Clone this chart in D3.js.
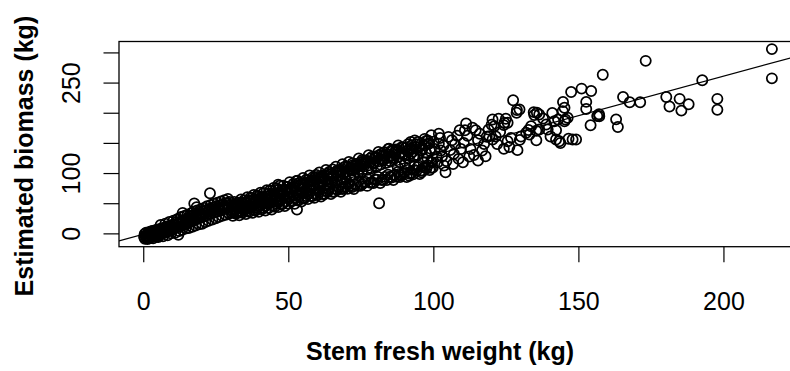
<!DOCTYPE html>
<html>
<head>
<meta charset="utf-8">
<script src="https://cdn.jsdelivr.net/npm/d3@7"></script>
<style>
  body { margin: 0; background: #fff; }
  svg { display: block; font-family: "Liberation Sans", Arial, Helvetica, sans-serif; }
</style>
</head>
<body>
<div id="chart"></div>
<script>
// stem fresh weight (kg) vs estimated biomass (kg)
const smallTrees = [
  [0.3,-6],[0.5,-1],[0.6,-9],[0.8,-4],[1.0,1],[1.1,-7],[1.3,-3],[1.5,-9.5],[1.7,0],[1.9,-5],
  [2.0,2],[2.2,-8],[2.4,-2],[2.6,3],[2.8,-6],[3.0,-1],[3.2,4],[3.4,-8],[3.5,1],[3.7,-4],
  [3.9,5],[4.1,-2],[4.3,2],[4.5,-6],[4.7,6],[4.9,0],[5.1,3],[5.3,-3],[5.5,7],[5.7,1],
  [5.9,4],[6.1,-1],[6.3,8],[6.5,3],[6.7,6],[6.9,0],[7.1,9],[7.3,4],[7.5,7],[7.7,2],
  [7.9,11],[8.1,5],[8.3,9],[8.5,3],[8.7,12],[8.9,7],[9.1,10],[9.3,5],[9.5,13],[9.7,8],
  [9.9,11],[10.2,6],[10.5,15],[10.8,9],[11.1,13],[11.4,18],[11.6,22.8],[11.8,10],[12.1,-2.3],[12.3,15],
  [12.6,19],[12.9,12],[13.2,17],[13.6,34],[13.8,21],[14.1,14],[14.4,19],[14.7,23],[15.0,16],[15.3,21],
  [15.6,26],[15.9,18],[16.2,23],[16.5,28],[16.8,20],[17.1,25],[17.6,49.7],[17.5,30],[17.8,22],[18.1,27],
  [18.4,43.5],[18.5,32],[18.8,24],[19.1,29],[19.5,34],[19.8,26],[20.1,31],[20.5,36],[20.8,28],[21.2,33],
  [21.6,38],[21.9,30],[22.3,35],[22.7,40],[23.0,66.5],[23.1,32],[23.5,37],[23.9,42],[24.2,34],[24.6,39],
  [25.0,44],[25.4,36],[25.8,41],[26.2,46],[26.6,38],[27.0,43],[27.4,48],[27.8,40],[28.2,45],[28.6,50],
  [29.0,42],[29.4,47],[29.8,52],
  [5.2,-6],[6.0,14],[6.8,-5],[7.6,16],[8.4,-3],[9.0,19],[9.6,0],[10.4,21],[11.0,1],[11.9,24],
  [12.4,4],[13.0,27],[13.4,6],[14.2,29],[14.6,8],[15.2,31],[15.7,9],[16.4,33],[16.9,11],[17.3,36],
  [18.0,13],[18.6,38],[19.2,15],[19.9,40],[20.3,16],[21.0,42],[21.4,19],[22.0,45],[22.5,21],[23.3,47],
  [23.8,23],[24.4,49],[25.0,25],[25.6,51],[26.0,27],[26.8,53],[27.2,29],[28.0,55],[28.4,31],[29.2,57],
  [29.6,33]
];
const midTrees = [
  [30.5,34],[31.0,45],[31.6,45.2],[31.8,40],[32.3,36],[32.7,47],[33.2,42],[33.6,38],[34.0,49],[34.4,44],
  [34.9,40],[35.3,51],[35.7,46],[36.2,42],[36.9,53.7],[37.1,48],[37.6,44],[38.0,55],[38.5,50],[39.0,56.3],
  [39.3,46],[39.8,57],[40.2,52],[40.7,48],[41.1,59],[41.6,54],[42.0,50],[42.5,61],[42.9,56],[43.4,52],
  [43.8,63],[44.3,58],[44.7,53],[45.2,65],[45.6,60],[46.1,55],[46.5,80.5],[46.6,67],[47.0,62],[47.2,53.7],
  [47.5,57],[48.0,70],[48.4,64],[48.9,59],[49.3,72],[49.8,66],[50.2,61],[50.7,74],[51.1,68],[51.6,63],
  [52.0,77],[52.5,71],[53.0,39.7],[53.2,87.2],[53.4,65],[53.8,79],[54.3,73],[54.7,67],[55.2,82],[55.6,75],
  [56.1,69],[56.5,84],[57.0,78],[57.4,72],[57.8,76],[58.3,88],[58.7,80],[59.2,92.7],[59.6,74],[60.1,83],
  [60.5,90],[61.0,77],[61.4,85],[61.9,93],[62.3,79],[62.8,88],[63.2,96],[63.7,82],[64.1,90],[64.6,98],
  [65.0,84],[65.5,93],[66.0,84.3],[66.4,101],[66.8,87],[67.3,96],[67.7,104],[68.2,89],[68.5,104],[69.1,99],
  [69.2,109.5],[69.6,92],[70.0,102],[70.5,110],[71.0,106.7],[71.4,95],[71.8,104],[72.3,113],[72.7,97],[73.2,107],
  [73.6,115],[74.1,100],[74.5,106.7],[75.0,118],[75.4,103],[75.9,115.2],[76.3,121],[76.8,117.8],[77.2,106],[77.7,113],
  [78.2,124],[78.6,108],[79.1,116],[79.6,117.8],[80.0,127],[80.5,111],[80.9,119],[81.3,50],[81.4,130],[81.8,114],
  [82.3,122],[82.7,129],[83.2,134.7],[83.6,117],[84.1,125],[84.7,140.3],[85.0,120],[85.4,128],[85.9,136],[86.3,123],
  [86.8,131],[87.2,139],[87.7,110],[88.3,127.5],[88.3,98.3],[88.6,118],[89.0,134],[89.5,142],[90.2,115.2],[90.4,129],
  [90.9,137],[91.3,124],[91.7,95.5],[92.2,151.5],[92.2,132],[92.7,140],[93.1,127],[93.6,127.5],[94.0,143],[94.5,130],
  [95.0,112],[95.9,137.5],[95.9,101.2],[96.6,117.8],[97.0,146],[97.4,134],[97.9,125],[98.3,149],[98.8,137],[99.2,118],
  [99.6,117.8],[100.1,152]
];
// points between the fitted line and the edges of the band
const midTreesInner = [
  [30.6,43.7],[31.2,34.5],[31.7,47],[32.3,35],[32.9,45.7],[33.4,35.4],[34.0,51],[34.6,40],[35.1,50.6],[35.7,37.4],
  [36.3,55],[36.8,41.8],[37.4,54.6],[38.0,39.4],[38.5,54],[39.1,42.8],[39.7,60.6],[40.2,45.3],[40.8,60],[41.4,42.8],
  [41.9,59.5],[42.5,46.3],[43.1,66],[43.6,49.7],[44.2,65.5],[44.8,46.3],[45.3,64.9],[45.9,49.7],[46.5,71.5],[47.0,53.2],
  [47.6,71],[48.2,49.7],[48.7,70.4],[49.3,53.2],[49.9,77],[50.4,57.6],[51.0,75.4],[51.6,54.2],[52.1,74.9],[52.7,58.6],
  [53.3,82.4],[53.8,61.1],[54.4,80.9],[55.0,57.7],[55.5,80.3],[56.1,62.1],[56.7,87.9],[57.2,65.5],[57.8,86.3],[58.4,62.1],
  [58.9,85.8],[59.5,65.5],[60.1,93.3],[60.6,69],[61.2,91.8],[61.8,65.6],[62.3,91.2],[62.9,70],[63.5,98.8],[64.0,73.4],
  [64.6,97.2],[65.2,69],[65.7,95.7],[66.3,73.5],[66.9,104.2],[67.4,76.9],[68.0,102.7],[68.6,73.5],[69.1,101.1],[69.7,77.9],
  [70.3,109.7],[70.8,81.3],[71.4,107.1],[72.0,76.9],[72.5,105.6],[73.1,81.4],[73.7,115.1],[74.2,85.8],[74.8,112.6],[75.4,81.4],
  [75.9,111],[76.5,85.8],[77.1,120.6],[77.6,89.3],[78.2,118],[78.8,84.8],[79.3,115.5],[79.9,89.3],[80.5,126.1],[81.0,93.7],
  [81.6,122.5],[82.2,88.3],[82.7,120.9],[83.3,93.7],[83.9,131.5],[84.4,97.2],[85.0,128],[85.6,92.7],[86.1,125.4],[86.7,97.2],
  [87.3,137],[87.8,101.6],[88.4,133.4],[89.0,96.2],[89.5,130.8],[90.1,101.6],[90.7,142.4],[91.2,105.1],[91.8,138.9],[92.4,100.6],
  [92.9,135.3],[93.5,105.1],[94.1,147.9],[94.6,109.5],[95.2,143.3],[95.8,104.1],[96.3,140.8],[96.9,109.5],[97.5,153.3],[98.0,113],
  [98.6,148.8],[99.2,108.6]
];
// the wider scatter at the edges of the band
const midTreesOuter = [
  [30.3,47],[30.9,29],[31.4,52],[32.0,32.5],[32.6,51],[33.1,30],[33.7,56],[34.2,34],[34.8,55],[35.4,32],
  [35.9,60],[36.5,36],[37.0,59],[37.6,34],[38.1,63.5],[38.7,38],[39.3,63],[39.8,36],[40.4,67.5],[40.9,40],
  [41.5,67],[42.1,38],[42.6,71.5],[43.2,42],[43.7,71],[44.3,39.6],[44.9,75.4],[45.4,44],[46.0,75],[46.6,43.6],
  [47.1,79],[47.7,48],[48.3,79],[48.8,45.5],[49.4,77],[50.0,49],[50.5,85],[51.1,53.5],[51.7,82],[52.2,49],
  [52.8,87],[53.4,54.6],[53.9,84],[54.5,53],[55.1,92],[55.6,58],[56.2,89],[56.8,57],[57.3,96],[57.9,62],
  [58.5,93],[59.0,59],[59.6,97],[60.2,63.5],[60.7,101],[61.3,61],[61.9,96],[62.4,65],[63.0,105],[63.6,69],
  [64.1,101.6],[64.7,65.4],[65.3,106],[65.8,69],[66.4,110.6],[67.0,72.4],[67.5,105],[68.1,69],[68.7,114.6],[69.2,74.3],
  [69.8,111],[70.4,74],[70.9,118.5],[71.5,79],[72.1,116],[72.6,73.7],[73.2,113.5],[73.8,79],[74.3,124],[74.9,78.7],
  [75.5,121.5],[76.0,84],[76.6,119],[77.2,78.7],[77.7,129.4],[78.3,84],[78.9,127],[79.4,83.6],[80.0,125.4],[80.6,89],
  [81.1,134.8],[81.7,83.6],[82.3,132.4],[82.8,89],[83.4,129],[84.0,88.6],[84.5,140],[85.1,94],[85.7,138],[86.2,88.5],
  [86.8,135],[87.4,94],[87.9,145.7],[88.5,93.5],[89.1,143],[89.6,99],[90.2,141],[90.8,93.5],[91.3,148],[91.9,99],
  [92.5,146],[93.0,98],[93.6,154],[94.2,104],[94.7,151.7],[95.3,98.4],[95.9,149],[96.4,104],[97.0,156.7],[97.6,107.5],
  [98.1,154],[98.7,105],[99.3,162.7],[99.8,109]
];
const largeTrees = [
  [101.1,127.5],[101.9,165.3],[101.9,148.7],[102.6,137.5],[103.7,112.3],[104.2,101.2],[106.4,154.3],[107.1,131.8],[108.7,123.5],[109.1,171],
  [110.9,171],[111.3,182.2],[112.4,127.5],[114.6,171],[115.4,154.3],[115.4,120.7],[116.8,137.5],[118.4,160.2],[119.3,161],[120.1,180],
  [120.4,188.8],[120.4,155.5],[121.0,177.7],[121.5,160.5],[124.3,179.5],[124.3,140.3],[124.5,183.3],[125.0,190],[125.6,183.3],[125.6,152.7],
  [126.2,143.2],[126.8,158.3],[127.5,220.7],[128.7,200],[128.8,204.5],[129.0,138],[129.8,155],[129.7,205.5],[130.2,160.5],[132.0,166.7],
  [132.8,171.5],[133.1,163.8],[133.7,177.7],[134.6,201],[134.8,196.2],[135.5,170],[135.5,154.3],[135.7,200],[136.5,197],[136.5,172.2],
  [137.8,190.5],[138.9,180.5],[139.4,172.2],[140.4,160.5],[141,199.5],[141.7,186],[142.3,171],[142.3,155.5],[143.0,188.8],[143.4,152.7],
  [143.8,149.8],[144.7,217.7],[145.2,208.3],[144.6,202.7],[145.2,186],[145.5,188.8],[146.3,191.7],[146.6,157],[147.5,234.3],[148.0,155.5],
  [149.2,155.5],[151.1,240],[152.7,218],[152.7,206.2],[154.2,179.4],[154.4,236],[156.5,194.5],[157.1,197.5],[157.2,194.3],[158.4,263],
  [163.0,189],[163.6,176.5],[165.4,226],[167.7,217.5],[171.3,217.5],[173.2,286],[180.3,226],[181.4,210.5],[184.9,223],[185.5,203.5],
  [188,214],[192.7,254],[197.9,223],[197.9,205],[216.7,305.5],[216.7,257],
  [100.5,140],[101.5,118],[102.3,158],[103.0,128],[103.5,146],[104.5,120],[105.2,160],[105.8,138],[106.8,115],[107.5,148],
  [108.2,162],[109.5,140],[110.2,118],[110.5,150],[111.8,162],[112.8,140],[113.5,175],[114.0,130],[116.0,165],[117.5,148],
  [118.0,128],[119.0,172],[122.0,148],[123.0,168],[122.5,190]
];
const xTicks = [0, 50, 100, 150, 200];
const yTicks = [0, 50, 100, 150, 200, 250, 300];
const yTickLabels = [0, 100, 250]; // the ones R had room for
const fitCoef = [-1.4, 1.31]; // intercept, slope of the fitted line

const width = 790, height = 371;
const svg = d3.select('#chart').append('svg')
  .attr('width', width)
  .attr('height', height);

const allTrees = smallTrees.concat(midTrees, midTreesInner, midTreesOuter, largeTrees);

// R style: 4% padding round the data range
const xExt = d3.extent(allTrees, d => d[0]);
const yExt = d3.extent(allTrees, d => d[1]);
const xPad = (xExt[1] - xExt[0]) * 0.04;
const yPad = (yExt[1] - yExt[0]) * 0.04;
const plot = {left: 119, right: 797, top: 41.5, bottom: 246.7};

const x = d3.scaleLinear()
  .domain([xExt[0] - xPad, xExt[1] + xPad])
  .range([plot.left, plot.right]);
const y = d3.scaleLinear()
  .domain([yExt[0] - yPad, yExt[1] + yPad])
  .range([plot.bottom, plot.top]);

const fontSize = 25;

// points
svg.append('g')
  .selectAll('circle')
  .data(allTrees)
  .enter()
  .append('circle')
  .attr('cx', d => x(d[0]))
  .attr('cy', d => y(d[1]))
  .attr('r', 5.1)
  .attr('fill', 'none')
  .attr('stroke', '#000')
  .attr('stroke-width', 1.75);

// fitted line, clipped to the box
svg.append('clipPath').attr('id', 'box')
  .append('rect')
  .attr('x', plot.left).attr('y', plot.top)
  .attr('width', plot.right - plot.left).attr('height', plot.bottom - plot.top);
const xd = x.domain();
svg.append('line')
  .attr('clip-path', 'url(#box)')
  .attr('x1', x(xd[0])).attr('y1', y(fitCoef[0] + fitCoef[1] * xd[0]))
  .attr('x2', x(xd[1])).attr('y2', y(fitCoef[0] + fitCoef[1] * xd[1]))
  .attr('stroke', '#000')
  .attr('stroke-width', 1.2);

// x axis
const xAxis = svg.append('g')
  .attr('transform', `translate(0,${plot.bottom})`)
  .call(d3.axisBottom(x).tickValues(xTicks).tickSize(15.5).tickPadding(30));
xAxis.select('.domain').remove();
xAxis.selectAll('line').attr('stroke-width', 1.2);
xAxis.selectAll('text')
  .attr('font-size', fontSize)
  .attr('font-family', null)
  .attr('fill', '#000');

// y axis, labels parallel to the axis
const yAxis = svg.append('g')
  .attr('transform', `translate(${plot.left},0)`)
  .call(d3.axisLeft(y).tickValues(yTicks).tickSize(15.5)
    .tickFormat(d => yTickLabels.includes(d) ? d : ''));
yAxis.select('.domain').remove();
yAxis.selectAll('line').attr('stroke-width', 1.2);
yAxis.selectAll('text')
  .attr('x', null).attr('dy', null)
  .attr('transform', 'translate(-39,0) rotate(-90)')
  .attr('text-anchor', 'middle')
  .attr('font-size', fontSize)
  .attr('font-family', null)
  .attr('fill', '#000');

// box
svg.append('rect')
  .attr('x', plot.left).attr('y', plot.top)
  .attr('width', plot.right - plot.left).attr('height', plot.bottom - plot.top)
  .attr('fill', 'none')
  .attr('stroke', '#000')
  .attr('stroke-width', 1.3);

// titles
svg.append('text')
  .attr('x', (plot.left + plot.right) / 2 - 18)
  .attr('y', 360)
  .attr('text-anchor', 'middle')
  .attr('font-size', fontSize)
  .attr('font-weight', 'bold')
  .text('Stem fresh weight (kg)');

svg.append('text')
  .attr('transform', `translate(33,${(plot.top + plot.bottom) / 2 + 12}) rotate(-90)`)
  .attr('text-anchor', 'middle')
  .attr('font-size', fontSize)
  .attr('font-weight', 'bold')
  .text('Estimated biomass (kg)');
</script>
</body>
</html>
